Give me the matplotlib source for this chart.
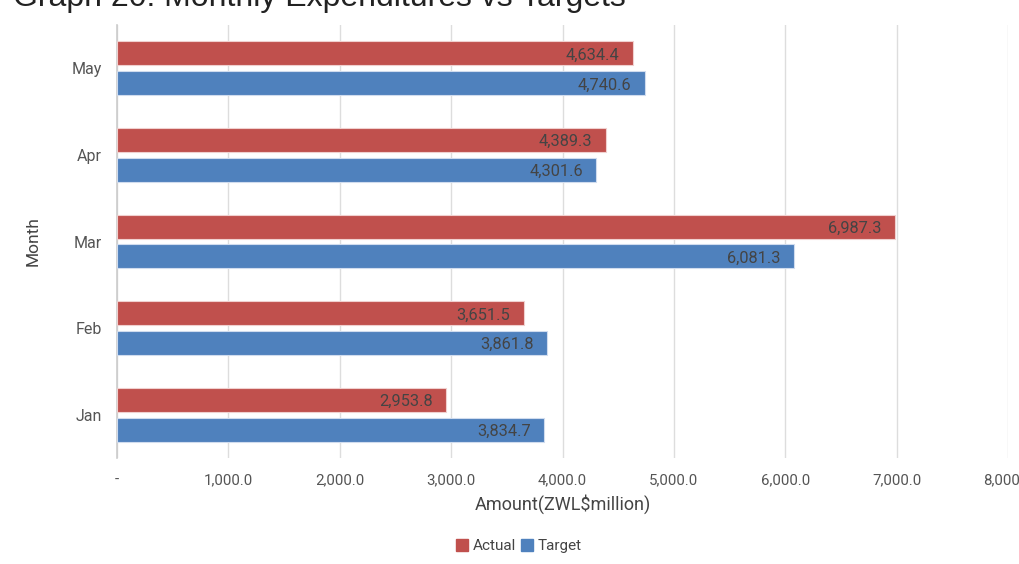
import numpy as np
import matplotlib.pyplot as plt
from matplotlib.patches import Patch

months = ['Jan', 'Feb', 'Mar', 'Apr', 'May']
actual = [2953.8, 3651.5, 6987.3, 4389.3, 4634.4]
target = [3834.7, 3861.8, 6081.3, 4301.6, 4740.6]
xticks = [0, 1000, 2000, 3000, 4000, 5000, 6000, 7000, 8000]

red = '#C0504D'
blue = '#4F81BD'
txt = '#444444'

plt.rcParams['font.family'] = ['Roboto', 'DejaVu Sans']

fig = plt.figure(figsize=(10.19, 5.64), dpi=100)
ax = fig.add_axes([117 / 1019, 1 - 458 / 564, 891 / 1019, 433 / 564])

y = np.arange(len(months))
h = 0.277
off = 0.173
ax.barh(y + off, actual, height=h, color=red, edgecolor='#f0d0cf', linewidth=0.8, zorder=3)
ax.barh(y - off, target, height=h, color=blue, edgecolor='#d0dcee', linewidth=0.8, zorder=3)

for i in range(len(months)):
    ax.text(actual[i] - 120, y[i] + off - 0.02, f'{actual[i]:,.1f}', ha='right', va='center',
            fontsize=11.8, color=txt, zorder=4)
    ax.text(target[i] - 120, y[i] - off - 0.02, f'{target[i]:,.1f}', ha='right', va='center',
            fontsize=11.8, color=txt, zorder=4)

ax.set_xlim(0, 8000)
ax.set_ylim(-0.5, 4.5)
ax.set_yticks(y)
ax.set_yticklabels(months, fontsize=11.5, color='#555555')
ax.set_xticks(xticks)
ax.set_xticklabels(['-'] + [f'{v:,.1f}' for v in xticks[1:]], fontsize=10.8, color='#555555')
ax.tick_params(axis='x', length=0, pad=11)
ax.tick_params(axis='y', length=0, pad=11)
ax.grid(axis='x', color='#dddddd', linewidth=1, zorder=0)
for s in ['top', 'right', 'bottom']:
    ax.spines[s].set_visible(False)
ax.spines['left'].set_color('#cccccc')
ax.spines['left'].set_linewidth(1.2)

ax.set_xlabel('Amount(ZWL$million)', fontsize=13, color=txt, labelpad=5)
ax.set_ylabel('Month', fontsize=12.5, color=txt, labelpad=22)

fig.text(13 / 1019, 1 - 6 / 564, 'Graph 20: Monthly Expenditures vs Targets',
         fontsize=23, color='#222222', family='Liberation Sans', va='baseline')

handles = [Patch(color=red, label='Actual'), Patch(color=blue, label='Target')]
fig.legend(handles=handles, loc='center', bbox_to_anchor=(519 / 1019, 1 - 546 / 564), ncol=2,
           frameon=False, fontsize=11, handlelength=0.8, handleheight=0.8,
           handletextpad=0.3, columnspacing=0.3, labelcolor=txt)

fig.savefig('out.png', dpi=100)
